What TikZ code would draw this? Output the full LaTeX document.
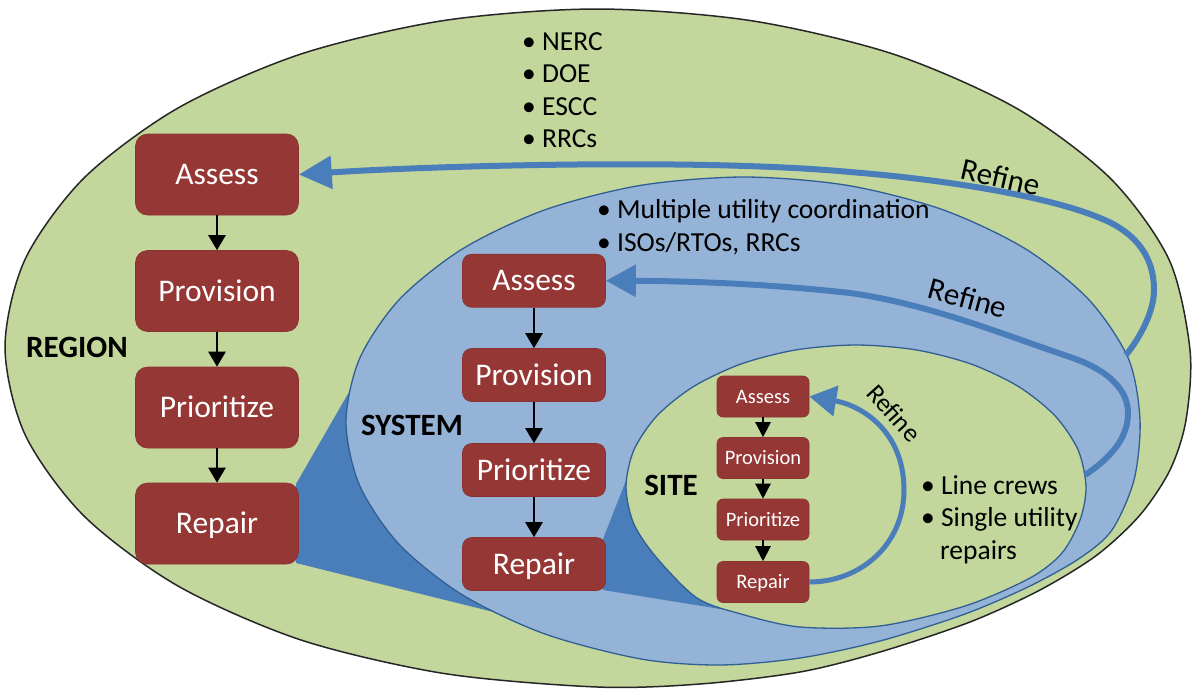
\documentclass[tikz,border=0pt]{standalone}
\usepackage{fontspec}
\setmainfont{Carlito}
\usetikzlibrary{arrows.meta}
\definecolor{regiongreen}{HTML}{C3D69B}
\definecolor{sysblue}{HTML}{95B3D7}
\definecolor{wedgeblue}{HTML}{4A7EBB}
\definecolor{linkblue}{HTML}{4A7EBB}
\definecolor{rimblue}{HTML}{2F5F94}
\definecolor{boxred}{HTML}{953735}
\definecolor{boxrim}{HTML}{8A3230}
\begin{document}
\begin{tikzpicture}[x=1pt,y=-1pt,
  boxbase/.style={rectangle, fill=boxred, draw=boxrim, line width=0.6pt, inner sep=0pt, text=white},
  bigbox/.style={boxbase, rounded corners=12pt, minimum width=163pt, minimum height=81pt, font=\fontsize{31.5}{36}\selectfont, text height=20.3pt, text depth=0pt},
  midbox/.style={boxbase, rounded corners=9pt, minimum width=143pt, minimum height=53pt, font=\fontsize{31.5}{36}\selectfont, text height=20.3pt, text depth=0pt},
  smallbox/.style={boxbase, rounded corners=6pt, minimum width=92pt, minimum height=41pt, font=\fontsize{20.5}{24}\selectfont, text height=13.2pt, text depth=0pt},
  blk/.style={draw=black, line width=2.5pt, -{Triangle[length=15pt,width=17pt]}},
  blksmall/.style={draw=black, line width=2.3pt, -{Triangle[length=15pt,width=15pt]}},
  refarrow/.style={draw=linkblue, line width=6pt},
  lvl/.style={font=\bfseries\fontsize{31}{36}\selectfont, inner sep=0pt, anchor=base},
  bul/.style={font=\fontsize{27.5}{32}\selectfont, inner sep=0pt, anchor=base west},
  refl/.style={font=\fontsize{31}{36}\selectfont, inner sep=0pt},
]
\useasboundingbox (0,0) rectangle (1192,691);

% REGION ellipse
\path[fill=regiongreen, draw=black!85, line width=1.5pt] plot[smooth cycle] coordinates {
 (597,9) (750,20.5) (893,54) (1016,108) (1110,178) (1169,259.5) (1190,350) (1186,420)
 (1170,470) (1140,515) (1097,555) (1040,590) (970,622) (880,652) (800,672) (700,684)
 (597,687) (444,673.5) (301,640) (178,586) (84,516) (25,434.5) (5,347) (25,259.5)
 (84,178) (178,108) (301,54) (444,20.5)};

% zoom wedge region -> system
\fill[wedgeblue] (296,484) -- (360,373) -- (600,450) -- (530,621) -- (296,563) -- cycle;

% SYSTEM ellipse
\path[fill=sysblue, draw=rimblue, line width=1.3pt] plot[smooth cycle] coordinates {
 (744,177) (847,185.3) (943,209.8) (1025.4,248.8) (1088.7,299.5) (1128.4,358.6) (1140,420)
 (1134,480) (1112,530) (1080,558) (1030,586) (965,614) (880,641) (800,658) (720,665)
 (641,659) (545,634) (462.6,595) (399.3,544.5) (359.6,485.4) (346,422) (359.6,358.6)
 (399.3,299.5) (462.6,248.8) (545,209.8) (641,185.3)};

% zoom wedge system -> site
\fill[wedgeblue] (603,539) -- (636,455) -- (760,500) -- (745,613) -- (603,590) -- cycle;

% SITE ellipse
\path[fill=regiongreen, draw=rimblue, line width=1.3pt] plot[smooth cycle] coordinates {
 (856,345) (915.5,349.8) (971,364) (1018.6,386.6) (1055.2,416) (1078.2,450.2) (1086,487)
 (1080,520) (1062,553) (1030,578) (965,606) (880,626) (800,627) (741,614) (697,598)
 (656.8,558) (633.8,523.8) (626,487) (633.8,450.2) (656.8,416) (693.4,386.6) (741,364)
 (796.5,349.8)};

% REGION boxes
\node[bigbox] (rA)  at (217,174.5) {Assess};
\node[bigbox] (rPv) at (217,291)   {Provision};
\node[bigbox] (rPr) at (217,407.5) {Prioritize};
\node[bigbox] (rR)  at (217,523.5) {Repair};
\draw[blk] (rA.south) -- (rPv.north);
\draw[blk] (rPv.south) -- (rPr.north);
\draw[blk] (rPr.south) -- (rR.north);

% SYSTEM boxes
\node[midbox] (sA)  at (534,280.7) {Assess};
\node[midbox] (sPv) at (534,375)   {Provision};
\node[midbox] (sPr) at (534,470)   {Prioritize};
\node[midbox] (sR)  at (534,564)   {Repair};
\draw[blk] (sA.south) -- (sPv.north);
\draw[blk] (sPv.south) -- (sPr.north);
\draw[blk] (sPr.south) -- (sR.north);

% SITE boxes
\node[smallbox] (tA)  at (763,396.5) {Assess};
\node[smallbox] (tPv) at (763,458)   {Provision};
\node[smallbox] (tPr) at (763,519.5) {Prioritize};
\node[smallbox] (tR)  at (763,582)   {Repair};
\draw[blksmall] (tA.south) -- (tPv.north);
\draw[blksmall] (tPv.south) -- (tPr.north);
\draw[blksmall] (tPr.south) -- (tR.north);

% Refine arrows
\coordinate (outerStart) at (1126,355);
\draw[refarrow, -{Triangle[length=33pt,width=32pt]}] (outerStart)
  .. controls (1142,335) and (1154,310) .. (1154,290)
  .. controls (1154,250) and (1128,229) .. (1100,218)
  .. controls (1050,197) and (950,180) .. (850,172)
  .. controls (700,158) and (430,166) .. (rA.east);
\coordinate (midStart) at (1085,475);
\draw[refarrow, -{Triangle[length=30pt,width=31pt]}] (midStart)
  .. controls (1115,455) and (1128,435) .. (1128,413)
  .. controls (1128,385) and (1100,367) .. (1070,357)
  .. controls (1010,337) and (930,304) .. (850,293)
  .. controls (760,283) and (680,281) .. (sA.east);
\draw[refarrow, line width=5pt, -{Triangle[length=27pt,width=30pt]}] (tR.east)
  .. controls (860,582) and (904,545) .. (904,490)
  .. controls (904,430) and (860,405) .. (tA.east);

\node[refl, rotate=-13] (refOuter) at (1001,177) {Refine};
\node[refl, rotate=-15] (refMid) at (968,298) {Refine};
\node[refl, font=\fontsize{26}{30}\selectfont, rotate=-48] (refSite) at (894,413) {Refine};

% level labels
\node[lvl] (regionLbl) at (77,357) {REGION};
\node[lvl] (systemLbl) at (412,435) {SYSTEM};
\node[lvl] (siteLbl) at (671,495) {SITE};

% bullet lists
\node[bul] (nerc) at (522,50) {• NERC};
\node[bul] (doe)  at (522,82.5) {• DOE};
\node[bul] (escc) at (522,115) {• ESCC};
\node[bul] (rrcs) at (522,147.5) {• RRCs};
\node[bul] (muc)  at (597,218.3) {• Multiple utility coordination};
\node[bul] (iso)  at (597,251.7) {• ISOs/RTOs, RRCs};
\node[bul] (crew) at (921,494) {• Line crews};
\node[bul] (single) at (921,526.7) {• Single utility};
\node[bul] (repairs) at (940,559) {repairs};
\end{tikzpicture}
\end{document}
